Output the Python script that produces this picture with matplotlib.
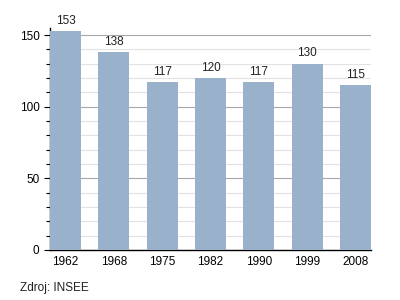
import matplotlib.pyplot as plt
from matplotlib.ticker import MultipleLocator

plt.rcParams['font.family'] = ['Liberation Sans', 'DejaVu Sans']

years = ["1962", "1968", "1975", "1982", "1990", "1999", "2008"]
values = [153, 138, 117, 120, 117, 130, 115]

fig = plt.figure(figsize=(4, 3), dpi=100)
ax = fig.add_axes([0.125, 0.1667, 0.8025, 0.74])

w = 0.64
x = list(range(len(years)))
ax.bar(x, values, width=w, color="#99b1cb", zorder=3)
for xi, v in zip(x, values):
    ax.text(xi, v + 3, str(v), ha="center", va="bottom", fontsize=8.5, color="#222222")

ax.set_xlim(-w / 2, len(years) - 1 + w / 2)
ax.set_ylim(0, 155)
ax.set_xticks(x)
ax.set_xticklabels(years, fontsize=8.5)
ax.tick_params(axis="x", length=0, pad=4)
ax.yaxis.set_major_locator(MultipleLocator(50))
ax.yaxis.set_minor_locator(MultipleLocator(10))
ax.tick_params(axis="y", which="major", labelsize=8.5, length=4, width=0.8)
ax.tick_params(axis="y", which="minor", length=3, width=0.8)

ax.grid(axis="y", which="major", color="#a8a8a8", lw=0.8, zorder=1)
ax.grid(axis="y", which="minor", color="#e2e2e2", lw=0.8, zorder=0)
for s in ["top", "right"]:
    ax.spines[s].set_visible(False)
ax.spines["left"].set_linewidth(1)
ax.spines["bottom"].set_linewidth(1)

fig.text(0.05, 0.03, "Zdroj: INSEE", fontsize=8.5, color="#222222")

fig.savefig("out.png")
